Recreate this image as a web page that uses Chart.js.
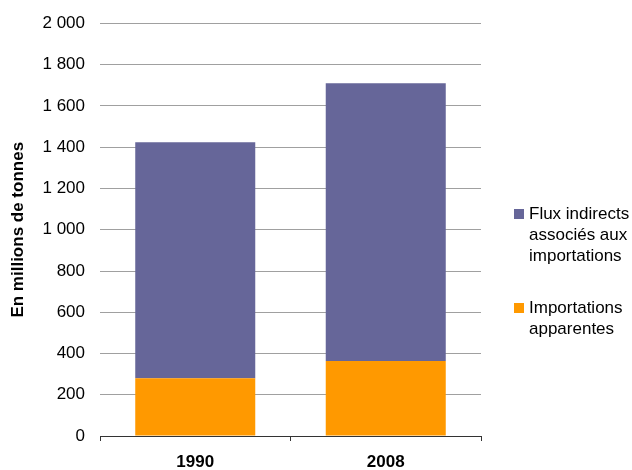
<!DOCTYPE html>
<html lang="fr">
<head>
<meta charset="UTF-8">
<title>Importations</title>
<script src="https://cdn.jsdelivr.net/npm/chart.js@4"></script>
<style>
  html, body { margin: 0; padding: 0; background: #fff; }
  #wrap { position: relative; width: 632px; height: 470px; }
</style>
</head>
<body>
<div id="wrap"><canvas id="chart" width="632" height="470"></canvas></div>
<script>
// data (millions de tonnes)
const years = ['1990', '2008'];
const importationsApparentes = [280, 364];
const fluxIndirects = [1144, 1346];
const seriesNames = ['Importations apparentes', 'Flux indirects associés aux importations'];
const legendLines = [['Importations', 'apparentes'], ['Flux indirects', 'associés aux', 'importations']];
const colors = ['#ff9900', '#666699'];

const FONT = '"Liberation Sans", Arial, sans-serif';

function spaced(v) {
  return String(v).replace(/\B(?=(\d{3})+(?!\d))/g, ' ');
}

// legend drawn by hand: Chart.js doesn't wrap labels the way the original does
const sideLegend = {
  id: 'sideLegend',
  afterDraw(chart) {
    const ctx = chart.ctx;
    const x = 514;
    const tops = [303, 209]; // box top of each entry, dataset order
    ctx.save();
    ctx.font = '17px ' + FONT;
    ctx.textBaseline = 'alphabetic';
    chart.data.datasets.forEach((ds, i) => {
      ctx.fillStyle = ds.backgroundColor;
      ctx.fillRect(x, tops[i], 10, 10);
      ctx.fillStyle = '#000';
      legendLines[i].forEach((line, j) => {
        ctx.fillText(line, x + 15, tops[i] + 10 + j * 21);
      });
    });
    ctx.restore();
  }
};

new Chart(document.getElementById('chart'), {
  type: 'bar',
  data: {
    labels: years,
    datasets: [
      { label: seriesNames[0], data: importationsApparentes, backgroundColor: colors[0] },
      { label: seriesNames[1], data: fluxIndirects, backgroundColor: colors[1] }
    ]
  },
  options: {
    responsive: false,
    animation: false,
    layout: { padding: { left: 0, right: 151, top: 0, bottom: 0 } },
    datasets: { bar: { categoryPercentage: 1, barPercentage: 0.63 } },
    plugins: { legend: { display: false }, tooltip: { enabled: false } },
    scales: {
      x: {
        stacked: true,
        grid: { drawOnChartArea: false, drawTicks: true, tickLength: 5, color: '#333', offset: true },
        border: { color: '#333' },
        ticks: { color: '#000', padding: 11, font: { family: FONT, size: 17, weight: 'bold' } },
        afterFit(s) { s.height = 34; }
      },
      y: {
        stacked: true,
        min: 0,
        max: 2000,
        grid: { color: '#a0a0a0', drawTicks: false },
        border: { display: false },
        ticks: {
          stepSize: 200,
          color: '#000',
          padding: 15,
          font: { family: FONT, size: 17, lineHeight: 1 },
          callback: v => spaced(v)
        },
        title: {
          display: true,
          text: 'En millions de tonnes',
          color: '#000',
          padding: { top: 8, bottom: 0 },
          font: { family: FONT, size: 17, weight: 'bold' }
        },
        afterFit(s) { s.width = 100; }
      }
    }
  },
  plugins: [sideLegend]
});
</script>
</body>
</html>
